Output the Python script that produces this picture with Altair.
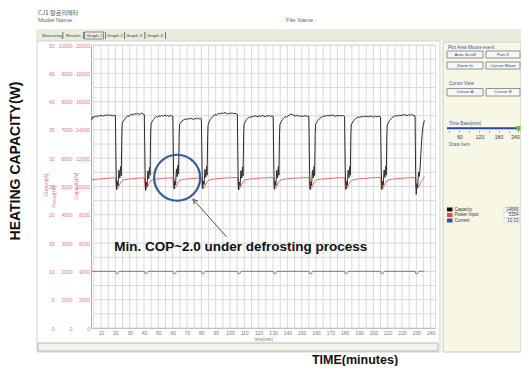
import altair as alt
import pandas as pd

# ---------------- data ----------------
cap_time = [3.5, 4.2, 5, 6, 7, 8, 9, 10, 11, 12, 13, 14, 15, 16, 17, 18, 19, 20,
            20.5, 20.9, 21.4, 21.9, 22.5, 23.1, 23.6, 24.1, 24.5, 24.8, 25.5, 26.5,
            27.5, 28.5, 29.5, 30.5, 31.5, 32.5, 33.5, 34.5, 35.5, 36.5, 37.5, 38.5, 39.5, 40.2,
            40.7, 41.1, 41.6, 42.1, 42.7, 43.3, 43.8, 44.2, 44.6, 44.9, 45.6, 46.6,
            47.5, 48.5, 49.5, 50.5, 51.5, 52.5, 53.5, 54.5, 55.5, 56.5, 57.5, 58.5, 59.5, 60.1,
            60.6, 61.0, 61.5, 62.0, 62.6, 63.2, 63.7, 64.1, 64.5, 64.8, 65.5, 66.5,
            67.5, 68.5, 69.5, 70.5, 71.5, 72.5, 73.5, 74.5, 75.5, 76.5, 77.5, 78.5, 79.5, 80.0,
            80.5, 80.9, 81.4, 81.9, 82.5, 83.1, 83.6, 84.0, 84.4, 84.7, 85.4, 86.4,
            87.5, 88.5, 89.5, 90.5, 91.5, 92.5, 93.5, 94.5, 95.5, 96.5, 97.5, 98.5, 99.5, 100.5,
            101.5, 102.5, 103.5, 104.5, 105.1,
            105.6, 106.0, 106.5, 107.0, 107.6, 108.2, 108.7, 109.1, 109.5, 109.8, 110.5, 111.5,
            112.5, 113.5, 114.5, 115.5, 116.5, 117.5, 118.5, 119.5, 120.5, 121.5, 122.5, 123.5,
            124.5, 125.5, 126.5, 127.5, 128.5, 129.5, 130.1,
            130.6, 131.0, 131.5, 132.0, 132.6, 133.2, 133.7, 134.1, 134.5, 134.8, 135.5, 136.5,
            137.5, 138.5, 139.5, 140.5, 141.5, 142.5, 143.5, 144.5, 145.5, 146.5, 147.5, 148.5,
            149.5, 150.5, 151.5, 152.5, 153.5, 154.5, 155.0,
            155.5, 155.9, 156.4, 156.9, 157.5, 158.1, 158.6, 159.0, 159.4, 159.7, 160.4, 161.4,
            162.5, 163.5, 164.5, 165.5, 166.5, 167.5, 168.5, 169.5, 170.5, 171.5, 172.5, 173.5,
            174.5, 175.5, 176.5, 177.5, 178.5, 179.5, 179.9,
            180.4, 180.8, 181.3, 181.8, 182.4, 183.0, 183.5, 183.9, 184.3, 184.6, 185.3, 186.3,
            187.5, 188.5, 189.5, 190.5, 191.5, 192.5, 193.5, 194.5, 195.5, 196.5, 197.5, 198.5,
            199.5, 200.5, 201.5, 202.5, 203.5, 204.5, 205.0,
            205.5, 205.9, 206.4, 206.9, 207.5, 208.1, 208.6, 209.0, 209.4, 209.7, 210.4, 211.4,
            212.5, 213.5, 214.5, 215.5, 216.5, 217.5, 218.5, 219.5, 220.5, 221.5, 222.5, 223.5,
            224.5, 225.5, 226.5, 227.5, 228.5, 229.1,
            229.5, 229.9, 230.4, 230.9, 231.5, 232.0, 232.6, 233.2, 233.9, 234.7, 235.6]
cap_value = [14700, 14930, 14890, 14960, 14920, 15000, 14970, 15040, 15000, 14980, 15060, 15020, 15080, 15010, 15060, 14990, 15040, 14990,
             11300, 9780, 10350, 10050, 11150, 10600, 11400, 10750, 13600, 14480, 14600, 14760,
             14880, 15000, 14950, 15070, 15120, 15050, 15160, 15100, 15180, 15090, 15140, 15200, 15110, 15080,
             11200, 9720, 10300, 10000, 11100, 10550, 11350, 10800, 13700, 14420, 14580, 14740,
             14850, 14960, 14900, 15000, 14950, 15030, 14970, 15050, 14990, 15020, 14940, 15040, 14980, 14950,
             11100, 9820, 10400, 10100, 11250, 10700, 11500, 10900, 13650, 14380, 14500, 14640,
             14700, 14770, 14720, 14800, 14760, 14830, 14780, 14740, 14810, 14780, 14840, 14770, 14820, 14790,
             11200, 9860, 10380, 10150, 11200, 10650, 11420, 10800, 13600, 14350, 14560, 14760,
             14900, 15010, 15080, 15040, 15120, 15180, 15130, 15210, 15160, 15230, 15170, 15120, 15190, 15150,
             15210, 15140, 15180, 15120, 15100,
             11100, 9760, 10320, 10060, 11120, 10600, 11380, 10760, 13700, 14400, 14560, 14720,
             14820, 14920, 14880, 14970, 14940, 15010, 14960, 14920, 15000, 14950, 15030, 14970,
             14930, 15010, 14960, 15020, 14950, 14990, 14960,
             11150, 9800, 10360, 10080, 11150, 10620, 11420, 10800, 13650, 14380, 14540, 14720,
             14850, 14940, 14900, 15000, 15060, 15120, 15080, 15020, 14980, 15040, 14970, 15010,
             14940, 14990, 14950, 15020, 14960, 14980, 14950,
             11100, 9780, 10340, 10070, 11140, 10600, 11400, 10780, 13680, 14380, 14520, 14680,
             14800, 14880, 14940, 14990, 14960, 15030, 14980, 15040, 14990, 15060, 15000, 14960,
             15030, 14980, 15040, 14990, 15020, 14970, 14960,
             11100, 9800, 10350, 10080, 11150, 10620, 11400, 10790, 13650, 14360, 14500, 14660,
             14780, 14860, 14920, 14880, 14950, 14910, 14980, 14930, 14970, 14920, 14990, 14940,
             14960, 14900, 14970, 14930, 14980, 14940, 14920,
             11150, 9790, 10360, 10090, 11160, 10640, 11420, 10800, 13660, 14360, 14500, 14660,
             14800, 14900, 14960, 15010, 14970, 15040, 14990, 15060, 15000, 15120, 15050, 15000,
             15080, 15020, 15110, 15040, 15010, 14990,
             11000, 9450, 10200, 9950, 11000, 10700, 11300, 12400, 13600, 14300, 14666]

pow_time = [3.5, 6, 9, 12, 15, 18, 20.1,
            20.5, 21.0, 21.8, 22.6, 23.5, 24.5, 26.0, 29.0, 33.0, 37.0, 40.3,
            40.7, 41.2, 42.0, 42.8, 43.7, 44.7, 46.2, 49.0, 53.0, 57.0, 60.2,
            60.6, 61.1, 61.9, 62.7, 63.6, 64.6, 66.1, 69.0, 73.0, 77.0, 80.1,
            80.5, 81.0, 81.8, 82.6, 83.5, 84.5, 86.0, 89.0, 93.0, 97.0, 101.0, 105.2,
            105.6, 106.1, 106.9, 107.7, 108.6, 109.6, 111.1, 114.0, 118.0, 122.0, 126.0, 130.2,
            130.6, 131.1, 131.9, 132.7, 133.6, 134.6, 136.1, 139.0, 143.0, 147.0, 151.0, 155.1,
            155.5, 156.0, 156.8, 157.6, 158.5, 159.5, 161.0, 164.0, 168.0, 172.0, 176.0, 180.0,
            180.4, 180.9, 181.7, 182.5, 183.4, 184.4, 185.9, 189.0, 193.0, 197.0, 201.0, 205.1,
            205.5, 206.0, 206.8, 207.6, 208.5, 209.5, 211.0, 214.0, 218.0, 222.0, 226.0, 229.2,
            229.6, 230.1, 230.9, 231.7, 232.6, 233.6, 234.6, 235.6]
pow_value = [5235, 5250, 5265, 5280, 5290, 5300, 5310,
             4965, 4920, 4945, 5025, 5125, 5195, 5235, 5260, 5280, 5295, 5305,
             4960, 4915, 4950, 5030, 5130, 5200, 5240, 5265, 5285, 5300, 5310,
             4970, 4925, 4955, 5035, 5135, 5200, 5240, 5260, 5280, 5295, 5305,
             4965, 4920, 4950, 5030, 5130, 5200, 5240, 5265, 5285, 5300, 5310, 5320,
             4960, 4915, 4945, 5025, 5130, 5200, 5245, 5265, 5285, 5300, 5310, 5315,
             4965, 4920, 4950, 5030, 5130, 5200, 5240, 5265, 5285, 5300, 5310, 5315,
             4960, 4915, 4945, 5025, 5125, 5195, 5240, 5260, 5280, 5295, 5305, 5310,
             4965, 4920, 4950, 5030, 5130, 5200, 5240, 5265, 5285, 5300, 5310, 5320,
             4960, 4915, 4950, 5030, 5130, 5200, 5240, 5265, 5285, 5300, 5310, 5315,
             4950, 4890, 4930, 5000, 5090, 5180, 5260, 5354]

cur_time = [3.5, 12, 20.1, 20.5, 21.4, 22.0, 22.6, 31, 40.3, 40.7, 41.6, 42.2, 42.8, 51,
            60.2, 60.6, 61.5, 62.1, 62.7, 71, 80.1, 80.5, 81.4, 82.0, 82.6, 93,
            105.2, 105.6, 106.5, 107.1, 107.7, 118, 130.2, 130.6, 131.5, 132.1, 132.7, 143,
            155.1, 155.5, 156.4, 157.0, 157.6, 168, 180.0, 180.4, 181.3, 181.9, 182.5, 193,
            205.1, 205.5, 206.4, 207.0, 207.6, 218, 229.2, 229.6, 230.5, 231.1, 231.7, 235.6]
cur_value = [10.0, 10.02, 10.0, 9.6, 9.55, 9.75, 10.0, 10.02, 10.0, 9.6, 9.55, 9.75, 10.0, 10.01,
             10.0, 9.6, 9.55, 9.75, 10.0, 10.02, 10.0, 9.6, 9.55, 9.75, 10.0, 10.02,
             10.0, 9.6, 9.55, 9.75, 10.0, 10.01, 10.0, 9.6, 9.55, 9.75, 10.0, 10.02,
             10.0, 9.6, 9.55, 9.75, 10.0, 10.01, 10.0, 9.6, 9.55, 9.75, 10.0, 10.02,
             10.0, 9.6, 9.55, 9.75, 10.0, 10.02, 10.0, 9.6, 9.55, 9.75, 10.0, 10.03]

time_domain = [3, 243]
x_grid = list(range(5, 241, 5))
x_labels = list(range(10, 241, 10))
cap_grid = list(range(0, 20001, 1000))
cap_ticks = list(range(0, 20001, 2000))
pow_ticks = list(range(0, 10001, 1000))
cur_ticks = list(range(0, 51, 5))

legend_names = ["Capacity", "Power Input", "Current"]
legend_values = ["14666", "5354", "10.03"]
tabs = ["Measuring", "Results", "Graph 1", "Graph 2", "Graph 3", "Graph 4"]
buttons = ["Auto Scroll", "Pan X", "Zoom In", "Cursor Move", "Cursor A", "Cursor B"]
time_base_labels = ["60", "120", "180", "240"]

note_text = "Min. COP~2.0 under defrosting process"
note_at = [107.5, 5720]
circle_at = [63.1, 10620]
arrow_tail = [97.5, 6450]
arrow_head = [74.2, 9100]

# ---------------- layout helpers ----------------
OX, OY = 91, 45          # page position of the plot area's top-left corner
PINK = "#e0738a"
UIBLUE = "#3a5aa8"
GRID = "#d9d9d9"
FONT = "Liberation Sans"
dummy = pd.DataFrame({"d": [0]})


def txt(x, y, s, size=4.6, color="#444", align="left", angle=0, weight="normal", font=FONT):
    kw = dict(text=s, fontSize=size, color=color, align=align, baseline="middle",
              fontWeight=weight, font=font)
    if angle:
        kw["angle"] = angle
    return alt.Chart(dummy).mark_text(**kw).encode(x=alt.value(x - OX), y=alt.value(y - OY))


def box(x1, y1, x2, y2, fill=None, stroke=None, sw=1):
    kw = {}
    if fill:
        kw["fill"] = fill
    else:
        kw["fillOpacity"] = 0
    if stroke:
        kw["stroke"] = stroke
        kw["strokeWidth"] = sw
    return alt.Chart(dummy).mark_rect(**kw).encode(
        x=alt.value(x1 - OX), x2=alt.value(x2 - OX), y=alt.value(y1 - OY), y2=alt.value(y2 - OY))


XS = alt.Scale(domain=time_domain, nice=False, zero=False)
CAPS = alt.Scale(domain=[0, 20000], nice=False, zero=False)

# one shared x axis definition, given identically to every layer that uses the time scale
x_axis = alt.Axis(values=x_labels, format="d", grid=False,
                  ticks=False, tickSize=0, domain=True, domainColor="#a8a8a8",
                  labelFontSize=5, labelColor="#777", labelPadding=2, labelFont=FONT,
                  labelFlush=False, labelOverlap=False,
                  title="time[min]", titleFontSize=4.5, titleColor="#777",
                  titleFontWeight="normal", titlePadding=1, titleFont=FONT)


def X(field="t"):
    return alt.X(f"{field}:Q", scale=XS, axis=x_axis)


# ---------------- UI chrome (behind) ----------------
back = [
    box(36, 29, 521, 41, fill="#e8ecdc"),
    box(37, 41, 440, 352, stroke="#d2d2d2"),
    box(38, 343, 438, 351, fill="#f3f3ec", stroke="#b5b5b5"),
    box(443, 42, 521, 352, fill="#f8f6e4", stroke="#c9c9bd"),
]

# ---------------- grid (through the scales) ----------------
vgrid = alt.Chart(pd.DataFrame({"t": x_grid})).mark_rule(color=GRID, strokeWidth=1).encode(x=X())
hgrid = alt.Chart(pd.DataFrame({"v": cap_grid})).mark_rule(color=GRID, strokeWidth=1).encode(
    y=alt.Y("v:Q", scale=CAPS, axis=None))

# ---------------- data layers ----------------
cur_df = pd.DataFrame({"t": cur_time, "v": cur_value})
pow_df = pd.DataFrame({"t": pow_time, "v": pow_value})
cap_df = pd.DataFrame({"t": cap_time, "v": cap_value})

cap_axis = alt.Axis(orient="left", values=cap_ticks, format="d", grid=False,
                    ticks=False, tickSize=0, domain=True, domainColor="#a8a8a8",
                    labelFontSize=5, labelColor=PINK, labelPadding=1.5, labelFont=FONT,
                    labelOverlap=False, title=None)

pow_axis = alt.Axis(orient="left", values=pow_ticks, format="d", offset=17,
                    grid=False, ticks=False, tickSize=0, domain=False,
                    labelFontSize=5, labelColor=PINK, labelPadding=2, labelFont=FONT,
                    labelOverlap=False, title=None)

cur_axis = alt.Axis(orient="left", values=cur_ticks, format="d", offset=35,
                    grid=False, ticks=False, tickSize=0, domain=False,
                    labelFontSize=5, labelColor=PINK, labelPadding=2, labelFont=FONT,
                    labelOverlap=False, title=None)

cur_line = alt.Chart(cur_df).mark_line(color="#5b7fd6", strokeWidth=1).encode(
    x=X(), y=alt.Y("v:Q", scale=alt.Scale(domain=[0, 50], nice=False, zero=False), axis=cur_axis))

pow_line = alt.Chart(pow_df).mark_line(color="#e8675e", strokeWidth=1).encode(
    x=X(), y=alt.Y("v:Q", scale=alt.Scale(domain=[0, 10000], nice=False, zero=False), axis=pow_axis))

cap_line = alt.Chart(cap_df).mark_line(color="#2b2b2b", strokeWidth=1).encode(
    x=X(), y=alt.Y("v:Q", scale=CAPS, axis=cap_axis))

# ---------------- annotation (in data units) ----------------
circ = alt.Chart(pd.DataFrame({"t": [circle_at[0]], "v": [circle_at[1]]})).mark_point(
    shape="circle", size=2116, filled=False, stroke="#2f5d9c", strokeWidth=2.2, opacity=1).encode(
    x=X(), y=alt.Y("v:Q", scale=CAPS, axis=None))

arrow_df = pd.DataFrame({"t": [arrow_tail[0]], "v": [arrow_tail[1]],
                         "t2": [arrow_head[0]], "v2": [arrow_head[1]]})
arrow = alt.Chart(arrow_df).mark_rule(color="#555", strokeWidth=1).encode(
    x=X(), y=alt.Y("v:Q", scale=CAPS, axis=None), x2="t2:Q", y2="v2:Q")
head = alt.Chart(pd.DataFrame({"t": [arrow_head[0]], "v": [arrow_head[1]]})).mark_point(
    shape="M-0.45,0.9L0,0L0.45,0.9", size=100, filled=False, stroke="#555",
    strokeWidth=1, angle=318, opacity=1).encode(
    x=X(), y=alt.Y("v:Q", scale=CAPS, axis=None))

note = alt.Chart(pd.DataFrame({"t": [note_at[0]], "v": [note_at[1]], "s": [note_text]})).mark_text(
    fontSize=13.5, fontWeight="bold", font=FONT, color="#111", align="center", baseline="middle").encode(
    x=X(), y=alt.Y("v:Q", scale=CAPS, axis=None), text="s:N")

# ---------------- UI chrome (front) ----------------
front = [
    txt(38, 12.5, "CJ1 칼로리메타", size=6.2, color="#555", font="Noto Sans CJK KR"),
    txt(38, 20, "Model Name :", size=6, color="#666"),
    txt(286, 20, "File Name :", size=6, color="#666"),
    box(84.5, 32, 103.5, 39, stroke="#8a8a8a"),
]
tab_x = [42, 66, 86.5, 107, 126, 147]
sep_x = [62.5, 83, 105, 124, 144.5, 165]
for tx, name in zip(tab_x, tabs):
    front.append(txt(tx, 35.5, name, size=4.4, color="#444"))
for sx in sep_x:
    front.append(box(sx, 32, sx + 0.8, 39, fill="#555"))

# axis titles
front += [
    txt(45.5, 185, "Current[A]", size=5, color=PINK, align="center", angle=270),
    txt(53.5, 197, "Power[W]", size=5, color=PINK, align="center", angle=270),
    txt(76, 186, "Capacity[W]", size=5, color=PINK, align="center", angle=270),
]

# right control panel
front += [
    txt(448, 47.5, "Plot Area Mouse event", color=UIBLUE),
    txt(449, 83.5, "Cursor View", color=UIBLUE),
    txt(449, 124, "Time Base[min]", color=UIBLUE),
    txt(449, 145, "Draw Item", color=UIBLUE),
]
btn_boxes = [(447, 51, 483, 58), (486, 51, 520, 58), (447, 62, 483, 69),
             (486, 62, 520, 69), (447, 88.5, 483, 96), (486, 88.5, 520, 96)]
for (x1, y1, x2, y2), name in zip(btn_boxes, buttons):
    front.append(box(x1, y1, x2, y2, fill="#f7f7f5", stroke="#909090"))
    front.append(txt((x1 + x2) / 2, (y1 + y2) / 2, name, size=4.4, color="#2a3f8f", align="center"))

front.append(box(447, 127.3, 518, 129.3, fill="#2346b8"))
front.append(box(516.5, 126, 520.5, 130.6, fill="#5cc13a"))
for tk in [449, 459, 469, 479, 489, 499, 509, 518]:
    front.append(box(tk, 131, tk + 0.6, 132.6, fill="#555"))
for lx, lab in zip([460, 480, 499, 515.5], time_base_labels):
    front.append(txt(lx, 137, lab, size=5, color="#333", align="center"))

leg_y = [209.5, 215, 220.5]
leg_c = ["#111111", "#e8473c", "#2d4fb5"]
for ly, lc, ln, lv in zip(leg_y, leg_c, legend_names, legend_values):
    front.append(box(447, ly - 2, 452.5, ly + 2, fill=lc))
    front.append(txt(454.5, ly, ln, size=4.5, color="#333"))
    front.append(box(504, ly - 2.4, 519.5, ly + 2.4, fill="#ffffff", stroke="#d0d0d0", sw=0.6))
    front.append(txt(518.5, ly, lv, size=4.5, color="#333", align="right"))

# outer labels
front += [
    txt(15.5, 161, "HEATING CAPACITY(W)", size=14, color="#111", align="center", angle=270, weight="bold"),
    txt(355, 359.5, "TIME(minutes)", size=12.5, color="#111", align="center", weight="bold"),
]

chart = alt.layer(*back, vgrid, hgrid, cur_line, pow_line, cap_line, circ, arrow, head, note,
                  *front).resolve_scale(
    y="independent"
).properties(
    width=344, height=283,
    padding={"left": 83, "top": 37, "right": 86, "bottom": 38},
    autosize=alt.AutoSizeParams(type="none"),
).configure_view(stroke="#c4c4c4", fill="white").configure(background="white")

chart.save("out.html", embed_options={"renderer": "svg", "actions": False})
